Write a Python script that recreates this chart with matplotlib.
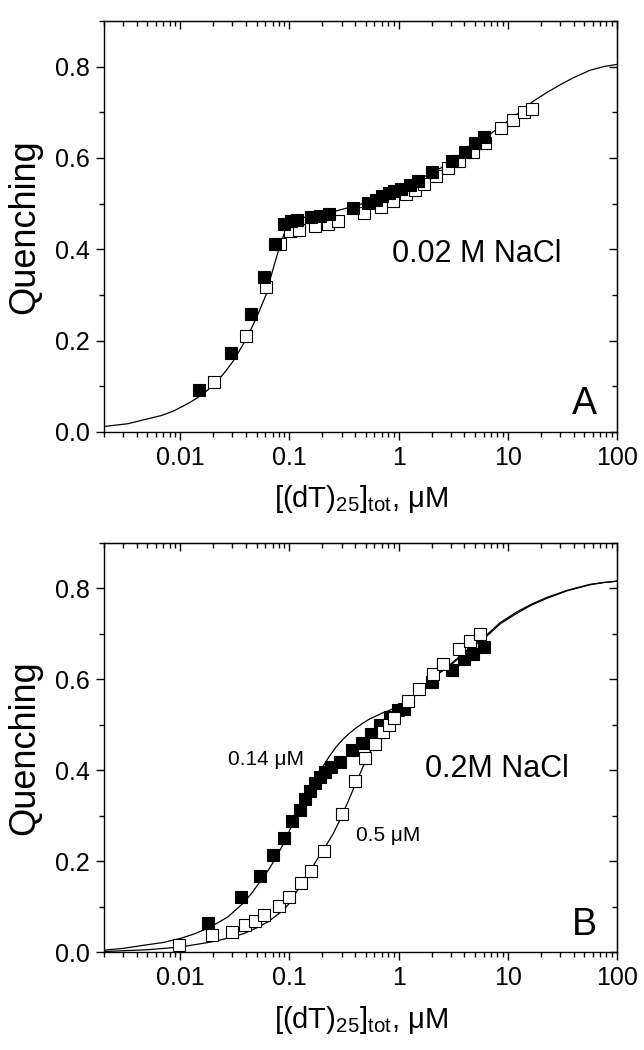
import matplotlib
matplotlib.use("Agg")
import matplotlib.pyplot as plt
from matplotlib.ticker import LogLocator, MultipleLocator, FixedLocator, NullFormatter, FormatStrFormatter

plt.rcParams['font.family'] = ['Liberation Sans', 'DejaVu Sans']
plt.rcParams['mathtext.default'] = 'regular'

# ---------------- Panel A data (0.02 M NaCl) ----------------
a_filled_x = [0.0147, 0.0292, 0.044, 0.059, 0.0738, 0.0893, 0.104, 0.118, 0.158, 0.191, 0.231,
              0.378, 0.524, 0.62, 0.71, 0.81, 0.906, 1.04, 1.28, 1.49, 2.04, 3.06, 4.05, 4.97, 6.06]
a_filled_y = [0.093, 0.172, 0.259, 0.339, 0.412, 0.455, 0.461, 0.465, 0.470, 0.474, 0.478,
              0.490, 0.501, 0.509, 0.516, 0.523, 0.528, 0.533, 0.541, 0.549, 0.570, 0.594, 0.614, 0.632, 0.647]
a_open_x = [0.0203, 0.0402, 0.0605, 0.081, 0.1016, 0.123, 0.173, 0.225, 0.279, 0.482, 0.695, 0.892,
            1.16, 1.41, 1.69, 2.19, 2.83, 3.56, 4.82, 6.2, 8.72, 11.1, 14.0, 16.5]
a_open_y = [0.109, 0.210, 0.317, 0.412, 0.441, 0.443, 0.452, 0.456, 0.463, 0.479, 0.492, 0.505,
            0.521, 0.530, 0.543, 0.560, 0.579, 0.594, 0.614, 0.632, 0.665, 0.683, 0.700, 0.707]
a_fit_x = [0.002, 0.0033, 0.0045, 0.0067, 0.0085, 0.0101, 0.0125, 0.0155, 0.0185, 0.022, 0.026,
           0.0313, 0.036, 0.0415, 0.046, 0.0513, 0.056, 0.0611, 0.0656, 0.0738, 0.081, 0.0918,
           0.1, 0.108, 0.124, 0.158, 0.231, 0.355, 0.493, 1.0, 2.25, 2.94, 4.82, 6.5, 8.45, 12.0,
           17.0, 23.0, 30.0, 40.0, 56.5, 75.0, 100.0]
a_fit_y = [0.012, 0.018, 0.026, 0.036, 0.045, 0.054, 0.066, 0.080, 0.095, 0.112, 0.133,
           0.159, 0.184, 0.210, 0.233, 0.257, 0.279, 0.301, 0.330, 0.372, 0.405, 0.442,
           0.457, 0.462, 0.468, 0.473, 0.480, 0.492, 0.502, 0.530, 0.574, 0.588, 0.625, 0.648, 0.668, 0.695,
           0.724, 0.744, 0.760, 0.776, 0.792, 0.800, 0.805]

# ---------------- Panel B data (0.2 M NaCl) ----------------
b_filled_x = [0.0181, 0.0358, 0.0536, 0.071, 0.089, 0.106, 0.124, 0.139, 0.155, 0.173, 0.191, 0.211,
              0.240, 0.290, 0.372, 0.464, 0.553, 0.668, 0.84, 0.977, 1.11, 2.01, 3.06, 3.99, 4.82, 6.06]
b_filled_y = [0.064, 0.121, 0.168, 0.214, 0.252, 0.289, 0.314, 0.337, 0.355, 0.373, 0.386, 0.397,
              0.408, 0.419, 0.445, 0.461, 0.481, 0.500, 0.518, 0.533, 0.536, 0.595, 0.621, 0.644, 0.657, 0.672]
b_open_x = [0.0098, 0.0195, 0.0297, 0.0393, 0.0485, 0.0587, 0.0796, 0.1, 0.128, 0.158, 0.209, 0.305,
            0.402, 0.493, 0.605, 0.721, 0.81, 0.906, 1.21, 1.54, 2.06, 2.53, 3.56, 4.47, 5.53]
b_open_y = [0.016, 0.038, 0.045, 0.060, 0.070, 0.082, 0.103, 0.122, 0.152, 0.179, 0.223, 0.305,
            0.377, 0.428, 0.459, 0.485, 0.500, 0.516, 0.552, 0.578, 0.612, 0.635, 0.666, 0.685, 0.700]
b_fit1_x = [0.002, 0.003, 0.0047, 0.007, 0.0101, 0.0135, 0.0178, 0.022, 0.0272, 0.032, 0.0387, 0.046,
            0.055, 0.064, 0.073, 0.081, 0.09, 0.1, 0.111, 0.124, 0.137, 0.15, 0.165, 0.183, 0.202, 0.233,
            0.268, 0.31, 0.355, 0.41, 0.471, 0.54, 0.624, 0.72, 0.826, 1.1, 1.5, 1.92, 3.0, 4.5, 6.4,
            8.5, 12.0, 16.0, 22.6, 35.0, 56.5, 75.0, 100.0]
b_fit1_y = [0.005, 0.009, 0.016, 0.022, 0.031, 0.041, 0.053, 0.065, 0.078, 0.093, 0.111, 0.133,
            0.159, 0.181, 0.203, 0.223, 0.243, 0.268, 0.291, 0.313, 0.335, 0.352, 0.370, 0.390, 0.408, 0.432,
            0.452, 0.469, 0.482, 0.494, 0.504, 0.513, 0.520, 0.527, 0.532, 0.548, 0.572, 0.599, 0.632, 0.667, 0.695,
            0.722, 0.745, 0.762, 0.778, 0.795, 0.808, 0.813, 0.816]
b_fit2_x = [0.002, 0.005, 0.0101, 0.0191, 0.028, 0.0387, 0.05, 0.0632, 0.0839, 0.1, 0.111, 0.125, 0.142,
            0.165, 0.188, 0.22, 0.25, 0.28, 0.308, 0.345, 0.381, 0.425, 0.471, 0.52, 0.582, 0.65, 0.718,
            0.826, 1.1, 1.5, 1.92, 3.0, 4.5, 6.4, 8.5, 12.0, 16.0, 22.6, 35.0, 56.5, 75.0, 100.0]
b_fit2_y = [0.002, 0.006, 0.012, 0.023, 0.032, 0.042, 0.054, 0.067, 0.089, 0.108, 0.126, 0.145, 0.165,
            0.190, 0.213, 0.238, 0.260, 0.284, 0.306, 0.332, 0.357, 0.383, 0.408, 0.430, 0.452, 0.472, 0.489,
            0.507, 0.540, 0.570, 0.597, 0.634, 0.670, 0.698, 0.725, 0.748, 0.764, 0.780, 0.796, 0.809, 0.813, 0.816]

xticks = [0.01, 0.1, 1, 10, 100]
xticklabels = ['0.01', '0.1', '1', '10', '100']
yticks = [0.0, 0.2, 0.4, 0.6, 0.8]
xlabel = r'[(dT)$_{25}$]$_{tot}$, μM'
ylabel = 'Quenching'

fig = plt.figure(figsize=(6.44, 10.5), dpi=100)
axA = fig.add_axes([0.1615, 0.5886, 0.7966, 0.3914])
axB = fig.add_axes([0.1615, 0.0929, 0.7966, 0.3900])

ms = 8.3
lw_fit = 0.9


def style(ax):
    ax.set_xscale('log')
    ax.set_xlim(0.002, 100)
    ax.set_ylim(0, 0.9)
    ax.xaxis.set_major_locator(FixedLocator(xticks))
    ax.set_xticklabels(xticklabels)
    ax.xaxis.set_minor_locator(LogLocator(base=10, subs=range(2, 10), numticks=20))
    ax.xaxis.set_minor_formatter(NullFormatter())
    ax.yaxis.set_major_locator(FixedLocator(yticks))
    ax.yaxis.set_major_formatter(FormatStrFormatter('%.1f'))
    ax.yaxis.set_minor_locator(MultipleLocator(0.1))
    for s in ax.spines.values():
        s.set_linewidth(1.0)
    ax.tick_params(which='both', direction='out', top=False, right=False, width=1.0, labelsize=18, pad=4)
    ax.tick_params(which='major', length=6)
    ax.tick_params(which='minor', length=3.5)
    top = ax.secondary_xaxis('top')
    top.xaxis.set_major_locator(FixedLocator(xticks))
    top.xaxis.set_minor_locator(LogLocator(base=10, subs=range(2, 10), numticks=20))
    top.tick_params(which='both', direction='in', labeltop=False, width=1.0)
    top.tick_params(which='major', length=6)
    top.tick_params(which='minor', length=3.5)
    top.xaxis.set_major_formatter(NullFormatter())
    top.xaxis.set_minor_formatter(NullFormatter())
    right = ax.secondary_yaxis('right')
    right.yaxis.set_major_locator(FixedLocator(yticks))
    right.yaxis.set_minor_locator(MultipleLocator(0.1))
    right.tick_params(which='both', direction='in', labelright=False, width=1.0)
    right.tick_params(which='major', length=6)
    right.tick_params(which='minor', length=3.5)
    right.yaxis.set_major_formatter(NullFormatter())
    ax.set_xlabel(xlabel, fontsize=21)
    ax.set_ylabel(ylabel, fontsize=26)
    ax.xaxis.set_label_coords(0.5, -0.125)
    ax.yaxis.set_label_coords(-0.12, 0.5)


# Panel A
style(axA)
axA.plot(a_fit_x, a_fit_y, color='black', lw=lw_fit, zorder=2)
axA.plot(a_open_x, a_open_y, 's', ms=ms, mfc='white', mec='black', mew=0.8, zorder=3)
axA.plot(a_filled_x, a_filled_y, 's', ms=ms, mfc='black', mec='black', mew=0.8, zorder=4)
axA.text(0.87, 0.39, '0.02 M NaCl', fontsize=22, ha='left', va='center')
axA.text(39, 0.039, 'A', fontsize=27, ha='left', va='baseline')

# Panel B
style(axB)
axB.plot(b_fit1_x, b_fit1_y, color='black', lw=lw_fit, zorder=2)
axB.plot(b_fit2_x, b_fit2_y, color='black', lw=lw_fit, zorder=2)
axB.plot(b_filled_x, b_filled_y, 's', ms=ms, mfc='black', mec='black', mew=0.8, zorder=3)
axB.plot(b_open_x, b_open_y, 's', ms=ms, mfc='white', mec='black', mew=0.8, zorder=4)
axB.text(1.73, 0.404, '0.2M NaCl', fontsize=22, ha='left', va='center')
axB.text(39, 0.038, 'B', fontsize=27, ha='left', va='baseline')
axB.text(0.0275, 0.423, '0.14 μM', fontsize=15, ha='left', va='center')
axB.text(0.408, 0.258, '0.5 μM', fontsize=15, ha='left', va='center')

fig.savefig('out.png', dpi=100)
